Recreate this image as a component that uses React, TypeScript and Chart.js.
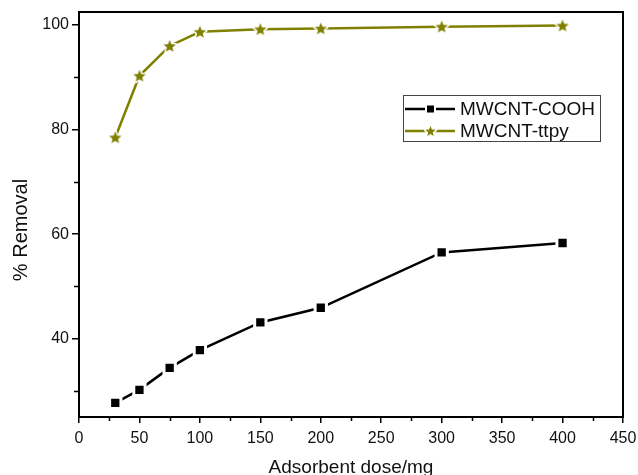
import React, { useEffect, useRef } from "react";
import { Chart, registerables } from "chart.js";

Chart.register(...registerables);

const doses = [30, 50, 75, 100, 150, 200, 300, 400];
const coohRemoval = [27.7, 30.2, 34.4, 37.8, 43.1, 45.9, 56.5, 58.3];
const ttpyRemoval = [78.5, 90.3, 96.0, 98.7, 99.2, 99.35, 99.7, 99.9];
const seriesNames = ["MWCNT-COOH", "MWCNT-ttpy"];
const xTicks = [0, 50, 100, 150, 200, 250, 300, 350, 400, 450];
const xMinorTicks = [25, 75, 125, 175, 225, 275, 325, 375, 425];
const yTicks = [40, 60, 80, 100];
const yMinorTicks = [30, 50, 70, 90];
const xTitle = "Adsorbent dose/mg";
const yTitle = "% Removal";

const OLIVE = "#808000";
const FONT = "'Liberation Sans', Arial, sans-serif";

function drawStar(ctx: CanvasRenderingContext2D, cx: number, cy: number, R: number, r: number) {
  ctx.beginPath();
  for (let i = 0; i < 10; i++) {
    const rad = i % 2 === 0 ? R : r;
    const a = -Math.PI / 2 + (i * Math.PI) / 5;
    const px = cx + rad * Math.cos(a);
    const py = cy + rad * Math.sin(a);
    if (i === 0) ctx.moveTo(px, py);
    else ctx.lineTo(px, py);
  }
  ctx.closePath();
}

function makeStarImage(R: number, halo: number) {
  const size = Math.ceil(2 * (R + halo) + 2);
  const c = document.createElement("canvas");
  c.width = size;
  c.height = size;
  const ctx = c.getContext("2d")!;
  const cx = size / 2;
  const cy = size / 2 + 0.6;
  drawStar(ctx, cx, cy, R, R * 0.45);
  ctx.lineJoin = "round";
  if (halo > 0) {
    ctx.strokeStyle = "#ffffff";
    ctx.lineWidth = halo * 2;
    ctx.stroke();
  }
  ctx.fillStyle = OLIVE;
  ctx.fill();
  return c;
}

const framePlugin = {
  id: "frameAndExtras",
  afterDraw(chart: any) {
    const { ctx, chartArea } = chart;
    const xs = chart.scales.x;
    const ys = chart.scales.y;
    ctx.save();
    // minor ticks
    ctx.strokeStyle = "#000";
    ctx.lineWidth = 1.5;
    ctx.beginPath();
    xMinorTicks.forEach((v) => {
      const px = Math.round(xs.getPixelForValue(v)) + 0.5;
      ctx.moveTo(px, chartArea.bottom);
      ctx.lineTo(px, chartArea.bottom + 4);
    });
    yMinorTicks.forEach((v) => {
      const py = Math.round(ys.getPixelForValue(v)) + 0.5;
      ctx.moveTo(chartArea.left, py);
      ctx.lineTo(chartArea.left - 5, py);
    });
    ctx.stroke();
    // frame
    ctx.lineWidth = 2;
    ctx.strokeRect(chartArea.left, chartArea.top, chartArea.right - chartArea.left, chartArea.bottom - chartArea.top);

    // axis titles
    ctx.fillStyle = "#111";
    ctx.font = `19px ${FONT}`;
    ctx.textAlign = "center";
    ctx.textBaseline = "alphabetic";
    ctx.fillText(xTitle, (chartArea.left + chartArea.right) / 2, 473);
    ctx.save();
    ctx.translate(27, 230);
    ctx.rotate(-Math.PI / 2);
    ctx.font = `20px ${FONT}`;
    ctx.fillText(yTitle, 0, 0);
    ctx.restore();

    // legend
    const bx = 403.5, by = 95.5, bw = 197, bh = 46;
    ctx.fillStyle = "#fff";
    ctx.fillRect(bx, by, bw, bh);
    ctx.strokeStyle = "#444";
    ctx.lineWidth = 1;
    ctx.strokeRect(bx, by, bw, bh);
    const rows = [
      { y: 109, color: "#000", marker: "square" },
      { y: 131, color: OLIVE, marker: "star" },
    ];
    rows.forEach((row, i) => {
      ctx.strokeStyle = row.color;
      ctx.lineWidth = 2.5;
      ctx.beginPath();
      ctx.moveTo(405, row.y);
      ctx.lineTo(455, row.y);
      ctx.stroke();
      if (row.marker === "square") {
        ctx.fillStyle = "#fff";
        ctx.fillRect(425, row.y - 5.5, 11, 11);
        ctx.fillStyle = "#000";
        ctx.fillRect(427, row.y - 3.5, 7, 7);
      } else {
        drawStar(ctx, 430.5, row.y + 0.5, 5.5, 2.4);
        ctx.strokeStyle = "#fff";
        ctx.lineWidth = 3;
        ctx.lineJoin = "round";
        ctx.stroke();
        ctx.fillStyle = OLIVE;
        ctx.fill();
      }
      ctx.fillStyle = "#111";
      ctx.font = `19px ${FONT}`;
      ctx.textAlign = "left";
      ctx.textBaseline = "middle";
      ctx.fillText(seriesNames[i], 460, row.y + 1);
    });
    ctx.restore();
  },
};

export default function App() {
  const canvasRef = useRef<HTMLCanvasElement | null>(null);

  useEffect(() => {
    document.body.style.margin = "0";
    const canvas = canvasRef.current;
    if (!canvas) return;
    const star = makeStarImage(6.5, 1.5);

    const chart = new Chart(canvas, {
      type: "line",
      data: {
        datasets: [
          {
            label: seriesNames[0],
            data: doses.map((d, i) => ({ x: d, y: coohRemoval[i] })),
            borderColor: "#000",
            borderWidth: 2.5,
            pointStyle: "rect",
            pointRadius: 8,
            pointBackgroundColor: "#000",
            pointBorderColor: "#fff",
            pointBorderWidth: 3,
            tension: 0,
          },
          {
            label: seriesNames[1],
            data: doses.map((d, i) => ({ x: d, y: ttpyRemoval[i] })),
            borderColor: OLIVE,
            borderWidth: 2.5,
            pointStyle: star as any,
            pointRadius: 7,
            tension: 0,
          },
        ],
      },
      options: {
        responsive: false,
        animation: false,
        devicePixelRatio: 1,
        events: [],
        layout: { padding: { top: 12, right: 15, left: 0, bottom: 0 } },
        plugins: {
          legend: { display: false },
          tooltip: { enabled: false },
          title: { display: false },
        },
        scales: {
          x: {
            type: "linear",
            min: 0,
            max: 450,
            afterFit: (s: any) => {
              s.height = 58;
              s.paddingLeft = 0;
              s.paddingRight = 0;
            },
            afterBuildTicks: (s: any) => {
              s.ticks = xTicks.map((v) => ({ value: v }));
            },
            grid: {
              drawOnChartArea: false,
              drawTicks: true,
              tickLength: 6,
              color: "#000",
              lineWidth: 1.5,
            },
            border: { display: false },
            ticks: {
              padding: 6,
              maxRotation: 0,
              autoSkip: false,
              color: "#111",
              font: { family: FONT, size: 16 },
            },
          },
          y: {
            type: "linear",
            min: 25,
            max: 102.5,
            afterFit: (s: any) => {
              s.width = 79;
              s.paddingTop = 0;
              s.paddingBottom = 0;
            },
            afterBuildTicks: (s: any) => {
              s.ticks = yTicks.map((v) => ({ value: v }));
            },
            grid: {
              drawOnChartArea: false,
              drawTicks: true,
              tickLength: 7,
              color: "#000",
              lineWidth: 1.5,
            },
            border: { display: false },
            ticks: {
              padding: 3,
              autoSkip: false,
              color: "#111",
              font: { family: FONT, size: 16 },
            },
          },
        },
      },
      plugins: [framePlugin],
    });
    return () => chart.destroy();
  }, []);

  return (
    <div style={{ width: 638, height: 475 }}>
      <canvas ref={canvasRef} width={638} height={475} style={{ display: "block" }} />
    </div>
  );
}
